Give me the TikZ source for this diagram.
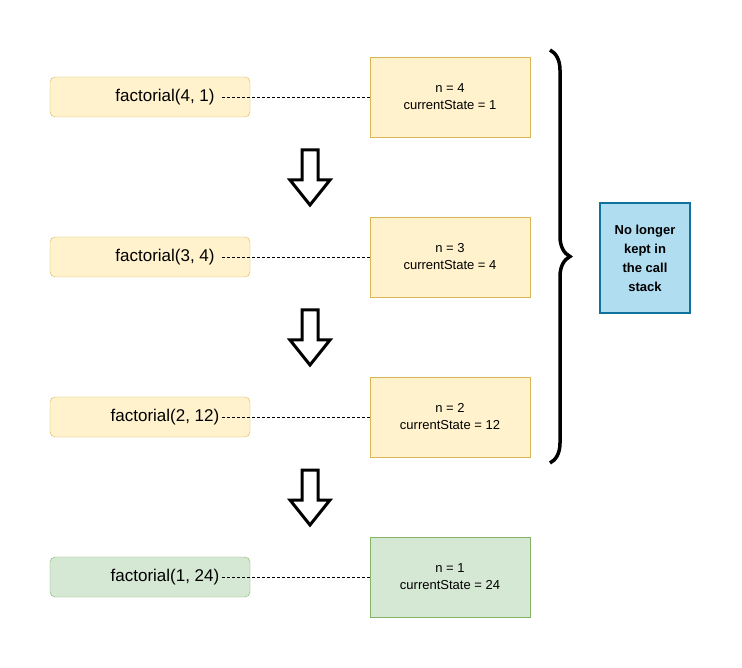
\documentclass[tikz,border=0pt]{standalone}
\usepackage{fontspec}
\setmainfont{Liberation Sans}
\usetikzlibrary{positioning, decorations.pathreplacing}
\definecolor{yfill}{HTML}{FFF2CC}
\definecolor{yline}{HTML}{D6B656}
\definecolor{gfill}{HTML}{D5E8D4}
\definecolor{gline}{HTML}{82B366}
\definecolor{bfill}{HTML}{B1DDF0}
\definecolor{bline}{HTML}{10739E}
\tikzset{
  call/.style={draw=yline,fill=yfill,rounded corners=5pt,minimum width=200pt,minimum height=40pt,font=\fontsize{17}{20}\selectfont},
  state/.style={draw=yline,fill=yfill,minimum width=160pt,minimum height=80pt,align=center,font=\fontsize{13}{17}\selectfont},
  link/.style={densely dashed,line width=0.6pt},
  flow/.style={draw=black,line width=3pt,fill=white,line join=miter}
}
\begin{document}
\begin{tikzpicture}[x=1pt,y=-1pt]
\useasboundingbox (0,0) rectangle (742,668);
% calls and their states
\foreach \i/\y/\n/\s/\lbl in {1/97/4/1/{factorial(4, 1)},2/257/3/4/{factorial(3, 4)},3/417/2/12/{factorial(2, 12)}}{
  \node[call] (c\i) at (150,\y) {\hspace*{30pt}\lbl};
  \node[state] (s\i) at (450,\y) {n = \n\\currentState = \s};
  \coordinate (e\i) at (222,\y);
  \draw[link] (e\i) -- (s\i.west);
}
\node[call,draw=gline,fill=gfill] (c4) at (150,577) {\hspace*{30pt}factorial(1, 24)};
\node[state,draw=gline,fill=gfill] (s4) at (450,577) {n = 1\\currentState = 24};
\coordinate (e4) at (222,577);
\draw[link] (e4) -- (s4.west);
% down arrows
\foreach \y in {150,310,470}{
  \draw[flow] (302,\y) -- (318,\y) -- (318,\y+30) -- (330,\y+30) -- (310,\y+55) -- (290,\y+30) -- (302,\y+30) -- cycle;
}
% brace and note
\coordinate (top) at (550,50);
\coordinate (bot) at (550,463);
\draw[line width=3.5pt,decorate,decoration={brace,amplitude=20pt}] (top) -- (bot);
\node[draw=bline,fill=bfill,line width=1.2pt,minimum width=90pt,minimum height=110pt,align=center,font=\bfseries\fontsize{13}{19}\selectfont] (note) at (645,258) {No longer\\kept in\\the call\\stack};
\end{tikzpicture}
\end{document}
